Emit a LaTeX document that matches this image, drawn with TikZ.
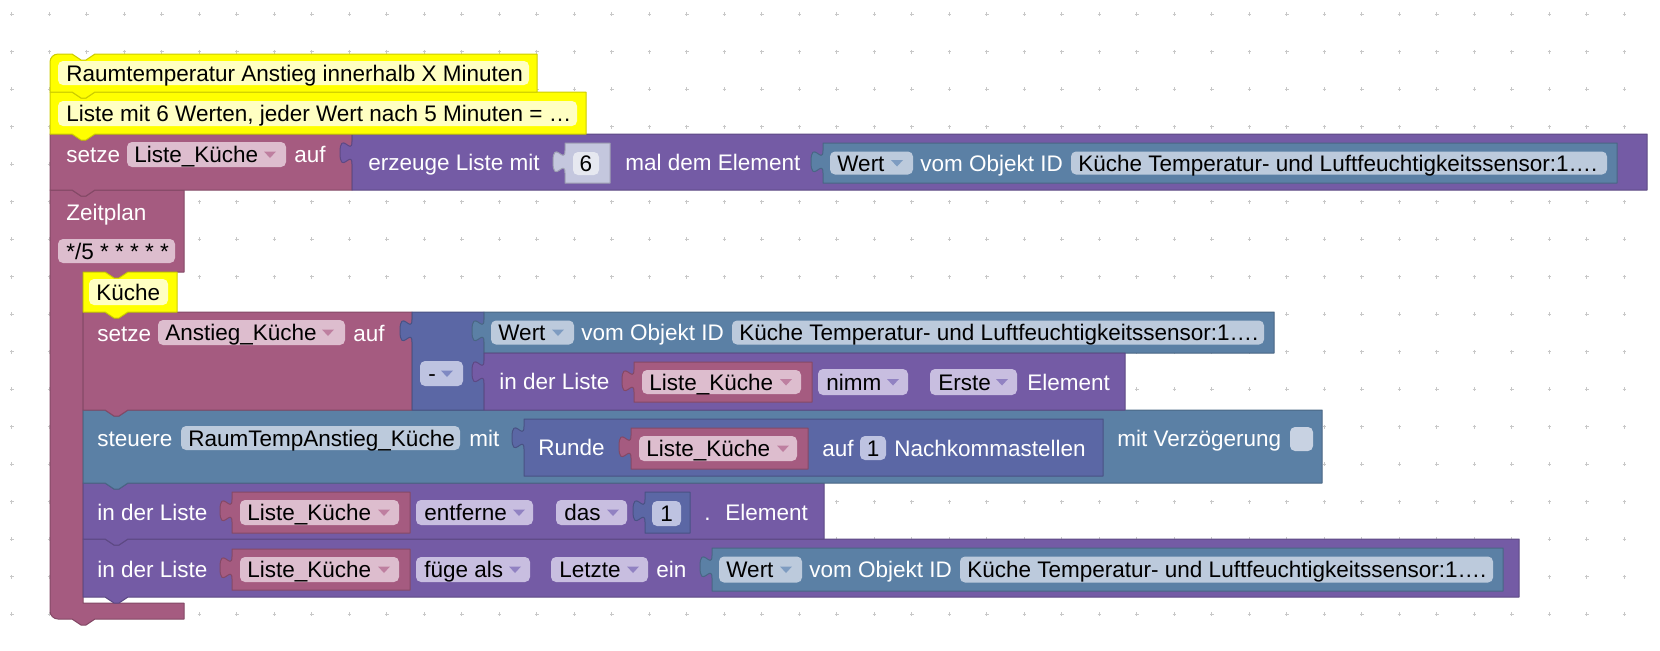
\documentclass[tikz,border=0pt]{standalone}
\usepackage{fontspec}
\setmainfont{Liberation Sans}
\definecolor{pinkB}{HTML}{A55B80}
\definecolor{pinkF}{HTML}{DDBDCE}
\definecolor{pinkA}{HTML}{BE7FA0}
\definecolor{purB}{HTML}{745BA5}
\definecolor{purF}{HTML}{C8BEE0}
\definecolor{purA}{HTML}{9182C2}
\definecolor{bluB}{HTML}{5B80A5}
\definecolor{bluF}{HTML}{BCCADC}
\definecolor{bluA}{HTML}{7E9CC1}
\definecolor{indB}{HTML}{5B67A5}
\definecolor{indF}{HTML}{BEC3E1}
\definecolor{indA}{HTML}{7F89C2}
\definecolor{yelB}{HTML}{FFFF00}
\definecolor{yelF}{HTML}{FFFFC2}
\definecolor{numB}{HTML}{C4C7DE}
\definecolor{numF}{HTML}{E6E8F0}
\definecolor{chkF}{HTML}{C8D2E2}
\definecolor{gridC}{HTML}{C8C8C8}
\tikzset{
  blk/.style={fill=#1, draw=#1!80!black, line width=0.5pt, line join=round},
  fld/.style={fill=#1, rounded corners=2.5pt},
  lbl/.style={text=white, font=\fontsize{11.25}{13}\selectfont, inner sep=0pt, anchor=base west},
  ftx/.style={text=black, font=\fontsize{11.25}{13}\selectfont, inner sep=0pt, anchor=base west},
  gridmark/.style={draw=gridC, line width=0.5pt}
}
\newcommand\stmtpath[4]{(#1,#2) -- ({#1+22},#2) -- ({#1+31},{#2+6}) -- ({#1+36},{#2+6}) -- ({#1+45},#2) -- (#3,#2) -- (#3,#4) -- ({#1+45},#4) -- ({#1+36},{#4+6}) -- ({#1+31},{#4+6}) -- ({#1+22},#4) -- (#1,#4) -- cycle}
\newcommand\valpath[4]{(#3,#2) -- (#1,#2) -- (#1,{#2+7.5}) .. controls (#1,{#2+22.5}) and ({#1-12},{#2-4.5}) .. ({#1-12},{#2+18.75}) .. controls ({#1-12},{#2+42}) and (#1,{#2+15}) .. (#1,{#2+30}) -- (#1,#4) -- (#3,#4) -- cycle}
\newcommand\ddarrow[3]{\fill[#3] ({#1},{#2-3}) -- ({#1+12},{#2-3}) -- ({#1+6},{#2+3.5}) -- cycle;}
\newcommand\pvar[5]{%
  \path[blk=pinkB] \valpath{#2}{#3}{#4}{#5};
  \path[fld=pinkF] ({#2+8},{#3+8}) rectangle ({#4-11},{#5-8});
  \node[ftx] (#1) at ({#2+15},{(#3+#5)/2+8}) {Liste\_Küche};
  \ddarrow{#2+146}{(#3+#5)/2}{pinkA}
}
\newcommand\wertblk[5]{%
  \path[blk=bluB] \valpath{#2}{#3}{#4}{#5};
  \path[fld=bluF] ({#2+7},{#3+8.5}) rectangle ({#2+90},{#5-8.5});
  \node[ftx] (#1a) at ({#2+14},{(#3+#5)/2+8}) {Wert};
  \ddarrow{#2+68}{(#3+#5)/2}{bluA}
  \node[lbl] (#1b) at ({#2+97},{(#3+#5)/2+8}) {vom Objekt ID};
  \path[fld=bluF] ({#2+248},{#3+8.5}) rectangle ({#4-10},{#5-8.5});
  \node[ftx] (#1c) at ({#2+255},{(#3+#5)/2+8}) {Küche Temperatur- und Luftfeuchtigkeitssensor:1….};
}
\begin{document}
\begin{tikzpicture}[x=0.5pt,y=-0.5pt]
\fill[white] (0,0) rectangle (1660,650);
\useasboundingbox (0,0) rectangle (1660,650);
% grid
\foreach \i in {0,...,44}{\foreach \j in {0,...,16}{
  \draw[gridmark] ({11.8+37.5*\i-1.8},{14.2+37.5*\j}) -- ++(3.6,0) ({11.8+37.5*\i},{14.2+37.5*\j-1.8}) -- ++(0,3.6);
}}
% Zeitplan C block
\path[blk=pinkB] (50,190) -- (72,190) -- (81,196) -- (86,196) -- (95,190) -- (184,190) -- (184,272) -- (128,272) -- (119,278) -- (114,278) -- (105,272) -- (83,272) -- (83,603) -- (184,603) -- (184,619) -- (95,619) -- (86,625) -- (81,625) -- (72,619) -- (58,619) .. controls (53.6,619) and (50,615.4) .. (50,611) -- cycle;
\node[lbl] (zeit) at (66,220) {Zeitplan};
\path[fld=pinkF] (58,239) rectangle (175,263);
\node[ftx] (cron) at (66,259) {*/5 * * * * *};
% fuege
\path[blk=purB] \stmtpath{83}{539}{1519}{597};
\node[lbl] (f1) at (97,577.5) {in der Liste};
\pvar{fvar}{232}{549}{410}{590}
\path[fld=purF] (416,557) rectangle (530,582);
\node[ftx] (fuege) at (424,577.5) {füge als};
\ddarrow{509}{569.5}{purA}
\path[fld=purF] (551,557) rectangle (648,582);
\node[ftx] (letzte) at (559,577.5) {Letzte};
\ddarrow{627}{569.5}{purA}
\node[lbl] (ein) at (656,577.5) {ein};
\wertblk{w3}{712}{548}{1503}{591}
% entferne
\path[blk=purB] \stmtpath{83}{483}{824}{539};
\node[lbl] (e1) at (97,520.5) {in der Liste};
\pvar{evar}{232}{492}{410}{533}
\path[fld=purF] (416,500) rectangle (533,525);
\node[ftx] (entf) at (424,520.5) {entferne};
\ddarrow{513}{512.5}{purA}
\path[fld=purF] (556,500) rectangle (627,525);
\node[ftx] (das) at (564,520.5) {das};
\ddarrow{607}{512.5}{purA}
\path[blk=indB] \valpath{645}{492}{690}{533};
\path[fld=indF] (652,501) rectangle (681,526);
\node[ftx,anchor=base] (n1) at (666.5,521.5) {1};
\node[lbl] (dot) at (704,520.5) {.};
\node[lbl] (elem2) at (725,520.5) {Element};
% steuere
\path[blk=bluB] \stmtpath{83}{410}{1322}{483};
\node[lbl] (st) at (97,446) {steuere};
\path[fld=bluF] (181,426) rectangle (460,450);
\node[ftx] (rta) at (188,446) {RaumTempAnstieg\_Küche};
\node[lbl] (mit) at (469,446) {mit};
\path[blk=indB] \valpath{524}{419}{1103}{476};
\node[lbl] (runde) at (538,455.5) {Runde};
\pvar{svar}{631}{428}{808}{469}
\node[lbl] (auf3) at (822,456.5) {auf};
\path[fld=indF] (860,436) rectangle (886,460);
\node[ftx,anchor=base] (n2) at (873,456) {1};
\node[lbl] (nk) at (894,456.5) {Nachkommastellen};
\node[lbl] (mv) at (1117,446) {mit Verzögerung};
\path[fld=chkF] (1290,427) rectangle (1313,451);
% setze Anstieg
\path[blk=pinkB] \stmtpath{83}{312}{412}{410};
\node[lbl] (s2) at (97,341) {setze};
\path[fld=pinkF] (158,320) rectangle (345,345);
\node[ftx] (ak) at (165,340.5) {Anstieg\_Küche};
\ddarrow{322}{332.5}{pinkA}
\node[lbl] (auf2) at (353,341) {auf};
\path[blk=indB] \valpath{412}{312}{484}{410};
\path[fld=indF] (420,361) rectangle (463,386);
\node[ftx] (minus) at (428,381.5) {-};
\ddarrow{441}{373.5}{indA}
\wertblk{w2}{484}{312}{1274}{353}
\path[blk=purB] \valpath{484}{353}{1125}{410};
\node[lbl] (l2) at (499,389) {in der Liste};
\pvar{avar}{634}{362}{812}{402}
\path[fld=purF] (818,369) rectangle (908,395);
\node[ftx] (nimm) at (826,390) {nimm};
\ddarrow{887}{382}{purA}
\path[fld=purF] (930,369) rectangle (1017,395);
\node[ftx] (erste) at (938,390) {Erste};
\ddarrow{996}{382}{purA}
\node[lbl] (elem1) at (1027,390) {Element};
% Kueche comment
\path[blk=yelB] \stmtpath{83}{272}{177}{312};
\path[fld=yelF] (89,279) rectangle (168,305);
\node[ftx] (kue) at (96,300) {Küche};
% setze Liste
\path[blk=pinkB] \stmtpath{50}{134}{352}{190};
\node[lbl] (s1) at (66,162.5) {setze};
\path[fld=pinkF] (127,142) rectangle (286,167);
\node[ftx] (lk1) at (134,162.5) {Liste\_Küche};
\ddarrow{264}{154.5}{pinkA}
\node[lbl] (auf1) at (294,162.5) {auf};
\path[blk=purB] \valpath{352}{134}{1647}{190};
\node[lbl] (erz) at (368,170) {erzeuge Liste mit};
\path[blk=numB] \valpath{565}{143}{610}{183};
\path[fld=numF] (573,152) rectangle (599,175);
\node[ftx,anchor=base] (n6) at (586,171.5) {6};
\node[lbl] (mde) at (625,170) {mal dem Element};
\wertblk{w1}{823}{143}{1617}{183}
% comments
\path[blk=yelB] \stmtpath{50}{92}{586}{134};
\path[fld=yelF] (58,101) rectangle (577,126);
\node[ftx] (c2) at (66,121.5) {Liste mit 6 Werten, jeder Wert nach 5 Minuten = …};
\path[blk=yelB] (50,92) -- (50,62) .. controls (50,57.6) and (53.6,54) .. (58,54) -- (72,54) -- (81,60) -- (86,60) -- (95,54) -- (537,54) -- (537,92) -- (95,92) -- (86,98) -- (81,98) -- (72,92) -- cycle;
\path[fld=yelF] (58,61) rectangle (529,85);
\node[ftx] (c1) at (66,81) {Raumtemperatur Anstieg innerhalb X Minuten};
\end{tikzpicture}
\end{document}
